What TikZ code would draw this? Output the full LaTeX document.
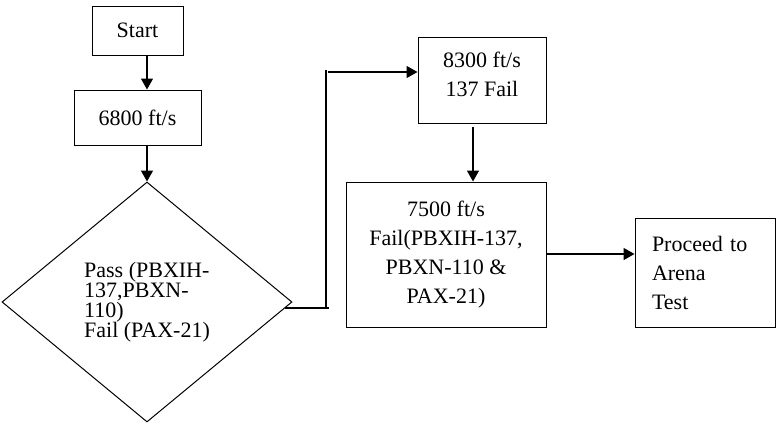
\documentclass[tikz,border=0pt]{standalone}
\usepackage{fontspec}
\setmainfont{Liberation Serif}
\usetikzlibrary{shapes.geometric,arrows.meta,calc}
\begin{document}
\begin{tikzpicture}[x=1pt,y=-1pt,
  every node/.style={font=\fontsize{22}{29}\selectfont},
  boxnode/.style={draw, line width=1pt, rectangle, inner sep=0pt, align=center},
  arr/.style={line width=1.5pt, -{Triangle[length=11pt,width=12pt]}},
  plain/.style={line width=1.5pt}]
\useasboundingbox (0,0) rectangle (776,423);
\node[boxnode, minimum width=91pt, minimum height=49pt] (start) at (137.5,30.5) {Start};
\node[boxnode, minimum width=127pt, minimum height=55pt] (n6800) at (137.5,117.5) {6800 ft/s};
\node[draw, line width=1pt, diamond, inner sep=0pt, minimum width=290pt, minimum height=240pt,
      align=left, font=\fontsize{22}{20}\selectfont] (dia) at (147,302)
  {Pass (PBXIH-\\137,PBXN-\\110)\\Fail (PAX-21)};
\node[boxnode, minimum width=128pt, minimum height=86pt] (n8300) at (482,80) {8300 ft/s\\137 Fail\\[-18pt]};
\node[boxnode, minimum width=200pt, minimum height=145pt] (n7500) at (446,254.5)
  {7500 ft/s\\Fail(PBXIH-137,\\PBXN-110 \&\\PAX-21)};
\node[boxnode, minimum width=140pt, minimum height=109pt, text width=106pt, align=left] (proc) at (705,272.5)
  {Proceed to\\Arena\\Test};
\coordinate (j1) at (285,308);
\coordinate (j2) at (329,308);
\coordinate (vbot) at (326,309);
\coordinate (vtop) at (326,70);
\coordinate (bend) at (328,72);
\coordinate (s8300) at (473,127);
\draw[arr] (start.south -| dia.north) -- (n6800.north -| dia.north);
\draw[arr] (n6800.south -| dia.north) -- (dia.north);
\draw[plain] (j1) -- (j2);
\draw[plain] (vbot) -- (vtop);
\draw[arr] (bend) -- (n8300.west |- bend);
\draw[arr] (s8300) -- (n7500.north -| s8300);
\draw[arr] (n7500.east |- 0,254) -- (proc.west |- 0,254);
\end{tikzpicture}
\end{document}
